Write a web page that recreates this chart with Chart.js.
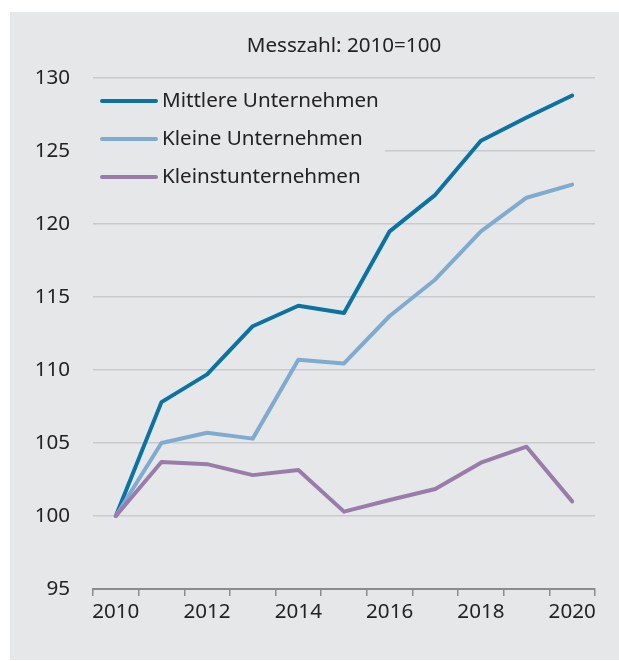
<!DOCTYPE html>
<html>
<head>
<meta charset="utf-8">
<script src="https://cdn.jsdelivr.net/npm/chart.js@4/dist/chart.umd.min.js"></script>
<style>
  html, body { margin: 0; padding: 0; background: #ffffff; }
  #wrap { position: relative; width: 619px; height: 661px; }
</style>
</head>
<body>
<div id="wrap"><canvas id="c"></canvas></div>
<script>
const years = ['2010','2011','2012','2013','2014','2015','2016','2017','2018','2019','2020'];
const mittlere = [100, 107.8, 109.7, 113.0, 114.4, 113.9, 119.5, 122.0, 125.7, 127.3, 128.8];
const kleine = [100, 105.0, 105.7, 105.3, 110.7, 110.45, 113.7, 116.2, 119.5, 121.8, 122.7];
const kleinst = [100, 103.7, 103.55, 102.8, 103.15, 100.3, 101.1, 101.85, 103.65, 104.75, 101.0];
const seriesNames = ['Mittlere Unternehmen', 'Kleine Unternehmen', 'Kleinstunternehmen'];
const titleText = 'Messzahl: 2010=100';

const FONT = '"Noto Sans", "DejaVu Sans", sans-serif';
const FS = 20.6;
const TEXT = '#222222';
const BG = '#e6e7e9';

const bgPlugin = {
  id: 'bg',
  beforeDraw(chart) {
    const ctx = chart.ctx;
    ctx.save();
    ctx.fillStyle = '#ffffff';
    ctx.fillRect(0, 0, chart.width, chart.height);
    ctx.fillStyle = BG;
    ctx.fillRect(10, 12, chart.width - 10, chart.height - 13);
    ctx.restore();
  }
};

const legendPlugin = {
  id: 'insideLegend',
  beforeDatasetsDraw(chart) {
    const ctx = chart.ctx;
    const area = chart.chartArea;
    ctx.save();
    ctx.font = FS + 'px ' + FONT;
    const x0 = area.left + 9;
    const lineLen = 54;
    const textX = x0 + lineLen + 6;
    const firstY = area.top + 23;
    const step = 38;
    let maxW = 0;
    chart.data.datasets.forEach(ds => { maxW = Math.max(maxW, ctx.measureText(ds.label).width); });
    ctx.fillStyle = BG;
    ctx.fillRect(area.left - 2, area.top + 6, textX + maxW + 6 - area.left + 2, step * 3 - 4);
    chart.data.datasets.forEach((ds, i) => {
      const y = firstY + i * step;
      ctx.strokeStyle = ds.borderColor;
      ctx.lineWidth = 4;
      ctx.lineCap = 'round';
      ctx.beginPath();
      ctx.moveTo(x0, y);
      ctx.lineTo(x0 + lineLen, y);
      ctx.stroke();
      ctx.fillStyle = TEXT;
      ctx.textBaseline = 'middle';
      ctx.textAlign = 'left';
      ctx.fillText(ds.label, textX, y);
    });
    ctx.restore();
  }
};

const mk = (label, data, color, order) => ({
  label, data,
  borderColor: color,
  backgroundColor: color,
  borderWidth: 4,
  pointRadius: 0,
  pointHoverRadius: 0,
  tension: 0,
  borderCapStyle: 'round',
  borderJoinStyle: 'round',
  fill: false,
  order
});

new Chart(document.getElementById('c'), {
  type: 'line',
  data: {
    labels: years,
    datasets: [
      mk(seriesNames[0], mittlere, '#0b72a2', 2),
      mk(seriesNames[1], kleine, '#80abd0', 1),
      mk(seriesNames[2], kleinst, '#9a7cab', 0)
    ]
  },
  options: {
    responsive: true,
    maintainAspectRatio: false,
    animation: false,
    layout: { padding: { left: 0, right: 24, top: 0, bottom: 0 } },
    plugins: {
      legend: { display: false },
      tooltip: { enabled: false },
      title: {
        display: true,
        text: titleText,
        fullSize: false,
        color: TEXT,
        font: { family: FONT, size: FS, weight: 'normal' },
        padding: { top: 34, bottom: 19.3 }
      }
    },
    scales: {
      x: {
        type: 'category',
        offset: true,
        afterFit(scale) { scale.height = 72; },
        grid: {
          offset: true,
          drawOnChartArea: false,
          drawTicks: true,
          tickLength: 7,
          color: '#8c8c8c',
          lineWidth: 1.5
        },
        border: { display: true, color: '#8c8c8c', width: 2 },
        ticks: {
          autoSkip: false,
          maxRotation: 0,
          padding: 4,
          color: TEXT,
          font: { family: FONT, size: FS },
          callback(value, index) { return index % 2 === 0 ? this.getLabelForValue(value) : ''; }
        }
      },
      y: {
        min: 95,
        max: 130,
        afterFit(scale) { scale.width = 93; },
        grid: {
          drawTicks: false,
          color: '#c9cacc',
          lineWidth: 1.5
        },
        border: { display: false },
        ticks: {
          stepSize: 5,
          padding: 23,
          color: TEXT,
          font: { family: FONT, size: FS }
        }
      }
    }
  },
  plugins: [bgPlugin, legendPlugin]
});
</script>
</body>
</html>
